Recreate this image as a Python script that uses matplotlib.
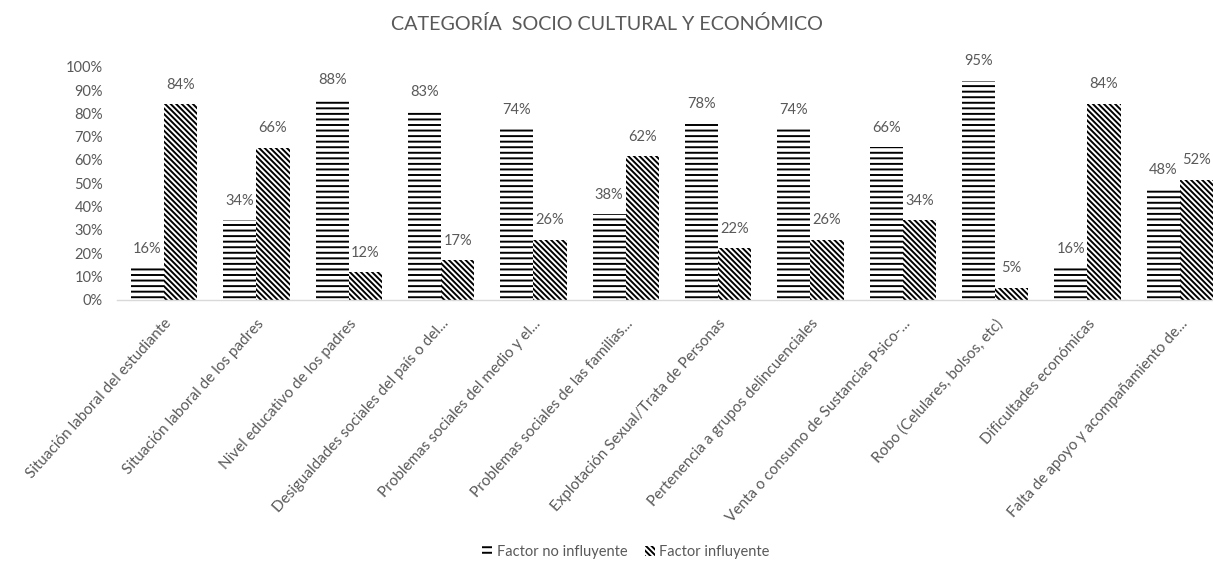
import numpy as np
import matplotlib
matplotlib.use('Agg')
import matplotlib.pyplot as plt

# categories (x axis)
categories = [
    'Situación laboral del estudiante',
    'Situación laboral de los padres',
    'Nivel educativo de los padres',
    'Desigualdades sociales del país o del...',
    'Problemas sociales del medio y el...',
    'Problemas sociales de las familias...',
    'Explotación Sexual/Trata de Personas',
    'Pertenencia a grupos delincuenciales',
    'Venta o consumo de Sustancias Psico-...',
    'Robo (Celulares, bolsos, etc)',
    'Dificultades económicas',
    'Falta de apoyo y acompañamiento de...',
]

# bar heights as drawn
no_influyente = [0.135, 0.342, 0.861, 0.808, 0.731, 0.368, 0.758, 0.731, 0.654, 0.940, 0.135, 0.474]
influyente = [0.840, 0.652, 0.118, 0.169, 0.258, 0.615, 0.222, 0.258, 0.341, 0.052, 0.841, 0.514]

# data labels as printed
labels_no = ['16%', '34%', '88%', '83%', '74%', '38%', '78%', '74%', '66%', '95%', '16%', '48%']
labels_si = ['84%', '66%', '12%', '17%', '26%', '62%', '22%', '26%', '34%', '5%', '84%', '52%']

grey = '#595959'
plt.rcParams['font.family'] = ['Lato', 'DejaVu Sans']
plt.rcParams['hatch.linewidth'] = 1.4

fig = plt.figure(figsize=(12.13, 5.65), dpi=100)
ax = fig.add_axes([117 / 1213, (565 - 299.7) / 565, 1 - 117 / 1213, (299.7 - 66.7) / 565])

x = np.arange(len(categories))
w = 0.36
b1 = ax.bar(x - w / 2, no_influyente, w, color='white', edgecolor='black',
            linewidth=0, hatch='---', label='Factor no influyente')
b2 = ax.bar(x + w / 2, influyente, w, color='white', edgecolor='black',
            linewidth=0, hatch='\\\\\\\\\\\\', label='Factor influyente')

for bars, labs in ((b1, labels_no), (b2, labels_si)):
    for rect, lab in zip(bars, labs):
        ax.annotate(lab, (rect.get_x() + rect.get_width() / 2, rect.get_height()),
                    xytext=(0, 14), textcoords='offset points',
                    ha='center', va='center', fontsize=10.5, color=grey)

ax.set_xlim(-0.51, 11.36)
ax.set_ylim(0, 1)
ax.set_yticks(np.linspace(0, 1, 11))
ax.set_yticklabels(['%d%%' % v for v in range(0, 101, 10)])
ax.set_xticks(x)
ax.set_xticklabels(categories, rotation=48, ha='right', va='top',
                   rotation_mode='anchor', fontsize=11)
ax.tick_params(axis='both', length=0, colors=grey)
ax.tick_params(axis='y', labelsize=10.5, pad=10)
ax.tick_params(axis='x', pad=12)
for s in ('top', 'right', 'left'):
    ax.spines[s].set_visible(False)
ax.spines['bottom'].set_color('#d9d9d9')
ax.spines['bottom'].set_linewidth(1)

fig.text(0.5, 0.957, 'CATEGORÍA  SOCIO CULTURAL Y ECONÓMICO', ha='center', va='center',
         fontsize=14.2, color=grey)

leg = fig.legend(loc='center', bbox_to_anchor=(0.516, 0.023), ncol=2, frameon=False,
                 fontsize=10.5, handlelength=0.7, handleheight=0.7, handletextpad=0.3,
                 columnspacing=1.2)
for t in leg.get_texts():
    t.set_color(grey)

fig.savefig('out.png', dpi=100)
